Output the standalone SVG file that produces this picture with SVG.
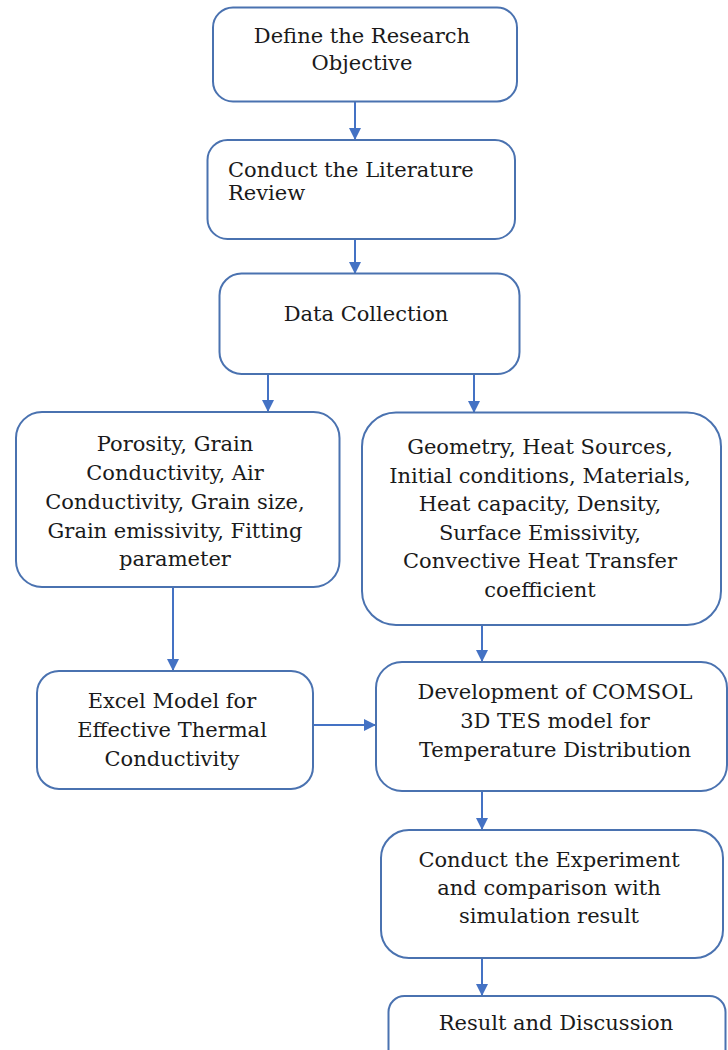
<svg xmlns="http://www.w3.org/2000/svg" width="728" height="1050" viewBox="0 0 728 1050">
<style>
.box{fill:#ffffff;stroke:#4a72b0;stroke-width:2}
.t{font-family:"DejaVu Serif","Liberation Serif",serif;font-size:21px;fill:#1a1a1a;text-anchor:middle}
.tl{text-anchor:start}
.c{fill:none;stroke:#4472c4;stroke-width:2}
</style>
<defs>
<marker id="ah" markerUnits="userSpaceOnUse" markerWidth="12" markerHeight="12" viewBox="0 0 12 12" refX="11" refY="6" orient="auto">
<path d="M0,0 L12,6 L0,12 Z" fill="#4472c4"/>
</marker>
</defs>
<rect width="728" height="1050" fill="#ffffff"/>
<g id="connectors">
<line class="c" x1="355" y1="102" x2="355" y2="139" marker-end="url(#ah)"/>
<line class="c" x1="355" y1="239" x2="355" y2="273" marker-end="url(#ah)"/>
<line class="c" x1="268" y1="374" x2="268" y2="411" marker-end="url(#ah)"/>
<line class="c" x1="474" y1="374" x2="474" y2="412" marker-end="url(#ah)"/>
<line class="c" x1="173" y1="587" x2="173" y2="670" marker-end="url(#ah)"/>
<line class="c" x1="482" y1="625" x2="482" y2="661" marker-end="url(#ah)"/>
<line class="c" x1="313" y1="725" x2="375" y2="725" marker-end="url(#ah)"/>
<line class="c" x1="482" y1="791" x2="482" y2="829" marker-end="url(#ah)"/>
<line class="c" x1="482" y1="958" x2="482" y2="995" marker-end="url(#ah)"/>
</g>
<g id="n1">
<rect class="box" x="213" y="7.5" width="304" height="94" rx="20"/>
<text class="t" x="362" y="43">Define the Research</text>
<text class="t" x="362" y="70">Objective</text>
</g>
<g id="n2">
<rect class="box" x="207.5" y="140" width="307.5" height="99" rx="20"/>
<text class="t tl" x="228" y="177">Conduct the Literature</text>
<text class="t tl" x="228" y="200">Review</text>
</g>
<g id="n3">
<rect class="box" x="219.5" y="273.5" width="300" height="100.5" rx="22"/>
<text class="t" x="366" y="321">Data Collection</text>
</g>
<g id="n4">
<rect class="box" x="16" y="412" width="323.5" height="175" rx="26"/>
<text class="t" x="175" y="451">Porosity, Grain</text>
<text class="t" x="175" y="480">Conductivity, Air</text>
<text class="t" x="175" y="509">Conductivity, Grain size,</text>
<text class="t" x="175" y="538">Grain emissivity, Fitting</text>
<text class="t" x="175" y="566">parameter</text>
</g>
<g id="n5">
<rect class="box" x="362" y="412.5" width="359" height="212.5" rx="34"/>
<text class="t" x="540" y="454">Geometry, Heat Sources,</text>
<text class="t" x="540" y="482.5">Initial conditions, Materials,</text>
<text class="t" x="540" y="511">Heat capacity, Density,</text>
<text class="t" x="540" y="539.5">Surface Emissivity,</text>
<text class="t" x="540" y="568">Convective Heat Transfer</text>
<text class="t" x="540" y="597">coefficient</text>
</g>
<g id="n6">
<rect class="box" x="37" y="671" width="276" height="118" rx="22"/>
<text class="t" x="172" y="708">Excel Model for</text>
<text class="t" x="172" y="737">Effective Thermal</text>
<text class="t" x="172" y="766">Conductivity</text>
</g>
<g id="n7">
<rect class="box" x="376" y="662" width="351" height="129" rx="26"/>
<text class="t" x="555" y="699">Development of COMSOL</text>
<text class="t" x="555" y="728">3D TES model for</text>
<text class="t" x="555" y="757">Temperature Distribution</text>
</g>
<g id="n8">
<rect class="box" x="381" y="830" width="342" height="128" rx="28"/>
<text class="t" x="549" y="867">Conduct the Experiment</text>
<text class="t" x="549" y="895">and comparison with</text>
<text class="t" x="549" y="923">simulation result</text>
</g>
<g id="n9">
<rect class="box" x="388.5" y="996" width="337" height="80" rx="16"/>
<text class="t" x="556" y="1030">Result and Discussion</text>
</g>
</svg>
